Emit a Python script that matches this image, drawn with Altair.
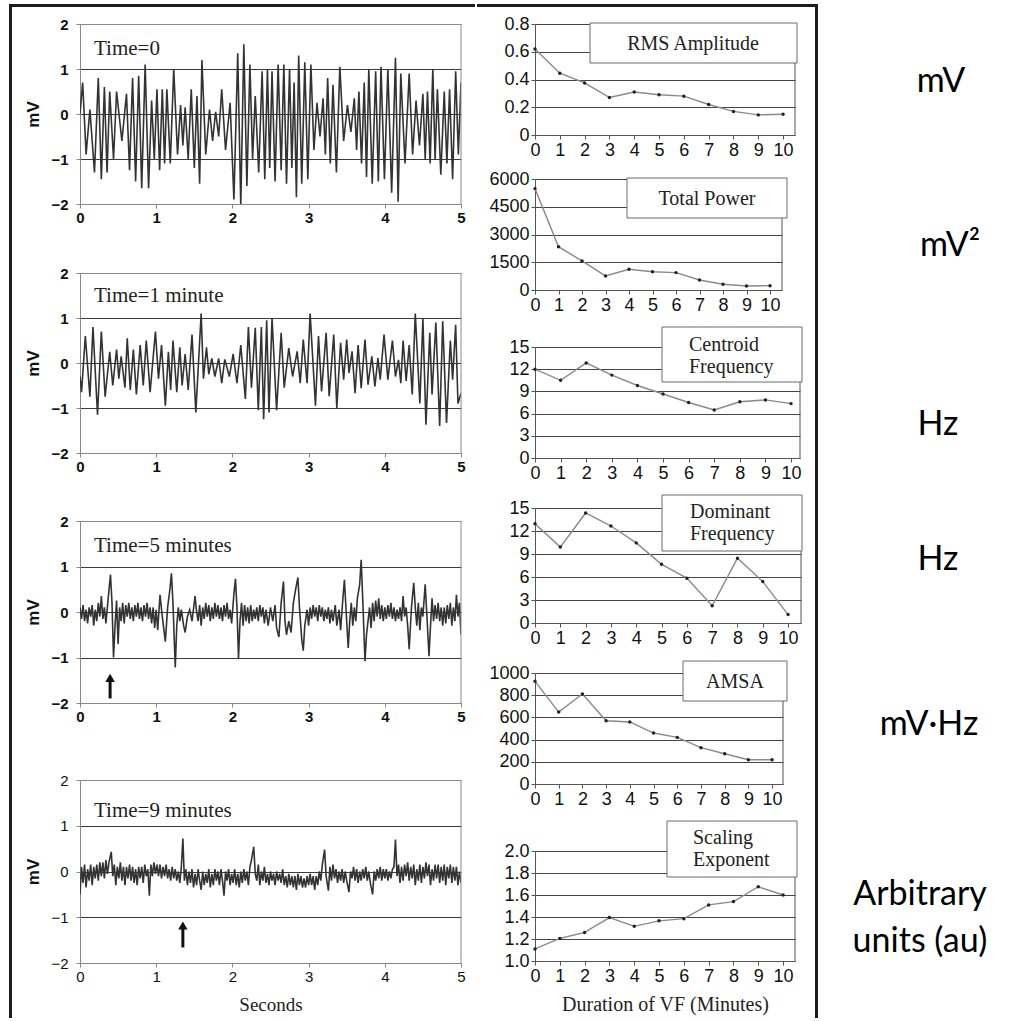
import altair as alt
import pandas as pd

SANS = "Liberation Sans"
SERIF = "Liberation Serif"
UNIT_FONT = "Lato"
FRAME = "#1c1c1c"

# ---------------- left column: ECG traces (seconds, mV) ----------------
SECONDS_TICKS = [0, 1, 2, 3, 4, 5]
MV_TICKS = [-2, -1, 0, 1, 2]
TIME_LABELS = ["Time=0", "Time=1 minute", "Time=5 minutes", "Time=9 minutes"]

TRACE_T0 = [
    (0.00, 0.0), (0.035, 0.7), (0.08, -0.9), (0.13, 0.1), (0.19, -1.3), (0.24, 0.8),
    (0.28, -1.45), (0.32, 0.6), (0.355, -1.3), (0.39, 0.5), (0.44, -1.0), (0.48, 0.5),
    (0.55, -0.6), (0.61, 0.45), (0.65, -1.25), (0.69, 0.8), (0.73, -1.5), (0.77, 0.85),
    (0.81, -1.65), (0.855, 1.1), (0.90, -1.65), (0.94, 0.3), (0.975, -1.0), (1.01, 0.55),
    (1.045, -1.25), (1.08, 0.55), (1.11, -1.1), (1.14, 0.55), (1.185, -1.1), (1.23, 1.0),
    (1.28, -0.9), (1.32, 0.2), (1.35, -0.7), (1.38, 0.15), (1.42, -1.0), (1.46, 0.55),
    (1.50, -1.2), (1.535, 0.4), (1.57, -1.55), (1.60, 1.2), (1.65, -0.9), (1.70, 0.1),
    (1.74, -0.6), (1.78, 0.05), (1.82, -0.5), (1.86, 0.55), (1.91, -0.8), (1.97, 0.25),
    (2.02, -1.9), (2.07, 1.35), (2.11, -2.05), (2.15, 1.55), (2.19, -1.6), (2.23, 1.1),
    (2.265, -1.0), (2.30, 0.4), (2.345, -1.3), (2.39, 0.95), (2.425, -1.45), (2.46, 1.0),
    (2.49, -1.2), (2.52, 0.95), (2.56, -1.5), (2.60, 1.1), (2.64, -1.25), (2.675, 1.1),
    (2.71, -1.55), (2.75, 1.0), (2.78, -1.2), (2.81, 0.7), (2.84, -1.85), (2.87, 1.3),
    (2.91, -1.55), (2.95, 1.15), (2.99, -1.45), (3.03, 1.1), (3.07, -0.8), (3.11, 0.25),
    (3.15, -0.5), (3.19, 0.35), (3.22, -0.9), (3.25, 0.8), (3.285, -1.1), (3.32, 0.65),
    (3.365, -1.3), (3.41, 1.05), (3.46, -0.6), (3.51, 0.2), (3.555, -0.4), (3.60, 0.35),
    (3.63, -0.8), (3.66, 0.5), (3.695, -1.1), (3.73, 0.7), (3.76, -1.4), (3.79, 1.0),
    (3.835, -1.55), (3.88, 0.95), (3.915, -1.5), (3.95, 1.05), (3.995, -1.45), (4.04, 1.0),
    (4.09, -1.75), (4.14, 1.25), (4.175, -1.95), (4.21, 0.9), (4.265, -1.1), (4.32, 0.9),
    (4.365, -0.9), (4.41, 0.3), (4.455, -0.7), (4.50, 0.45), (4.53, -1.0), (4.56, 0.5),
    (4.595, -1.1), (4.63, 1.0), (4.66, -1.0), (4.69, 0.55), (4.735, -1.35), (4.78, 0.5),
    (4.815, -1.1), (4.85, 0.55), (4.89, -1.45), (4.93, 0.95), (4.965, -0.9), (5.00, 0.7),
]

TRACE_T1 = [
    (0.00, -0.3), (0.02, -0.65), (0.07, 0.6), (0.13, -0.75), (0.17, 0.8), (0.23, -1.15),
    (0.28, 0.7), (0.33, -0.75), (0.39, 0.25), (0.43, -0.5), (0.48, 0.3), (0.51, -0.35),
    (0.54, 0.15), (0.59, -0.55), (0.62, 0.55), (0.66, -0.6), (0.70, 0.3), (0.74, -0.7),
    (0.79, 0.4), (0.83, -0.5), (0.87, 0.5), (0.92, -0.65), (0.99, 0.7), (1.03, -0.35),
    (1.07, 0.4), (1.12, -0.95), (1.16, 0.25), (1.19, -0.6), (1.22, 0.5), (1.27, -0.65),
    (1.31, 0.35), (1.34, -0.5), (1.38, 0.2), (1.42, -0.6), (1.47, 0.63), (1.52, -1.1),
    (1.59, 1.1), (1.62, -0.35), (1.66, 0.35), (1.69, -0.25), (1.73, 0.1), (1.77, -0.3),
    (1.82, 0.1), (1.86, -0.45), (1.90, 0.08), (1.96, -0.3), (2.01, 0.2), (2.06, -0.45),
    (2.11, 0.4), (2.17, -0.8), (2.21, 0.8), (2.25, -0.55), (2.30, 0.78), (2.34, -1.05),
    (2.38, 0.8), (2.41, -1.25), (2.45, 0.95), (2.48, -1.1), (2.52, 1.0), (2.58, -1.05),
    (2.64, 0.67), (2.68, -0.55), (2.74, 0.33), (2.79, -0.3), (2.85, 0.26), (2.89, -0.45),
    (2.93, 0.52), (2.98, -0.45), (3.02, 1.1), (3.09, -0.95), (3.13, 0.6), (3.17, -0.63),
    (3.23, 0.67), (3.27, -0.74), (3.33, 0.63), (3.37, -1.0), (3.42, 0.45), (3.46, -0.37),
    (3.50, 0.52), (3.53, -0.22), (3.57, 0.26), (3.61, -0.67), (3.65, 0.4), (3.69, -0.56),
    (3.74, 0.52), (3.78, -0.48), (3.83, 0.15), (3.87, -0.52), (3.91, 0.11), (3.94, -0.37),
    (3.99, 0.63), (4.04, -0.37), (4.10, 0.5), (4.14, -0.3), (4.18, 0.07), (4.21, -0.45),
    (4.24, 0.5), (4.28, -0.4), (4.32, 0.4), (4.36, -0.7), (4.40, 1.1), (4.46, -0.9),
    (4.50, 0.98), (4.54, -1.37), (4.59, 0.67), (4.62, -0.7), (4.67, 0.9), (4.72, -1.4),
    (4.76, 0.93), (4.81, -1.33), (4.86, 0.5), (4.89, -0.37), (4.93, 0.85), (4.96, -0.9),
    (5.00, -0.67),
]

TRACE_T5 = [
    (0.00, 0.1), (0.02, -0.15), (0.04, 0.15), (0.06, -0.2), (0.08, 0.05), (0.10, -0.25),
    (0.12, 0.1), (0.14, -0.1), (0.16, 0.15), (0.18, -0.3), (0.20, 0.05), (0.22, -0.2),
    (0.24, 0.2), (0.26, -0.1), (0.28, 0.35), (0.30, -0.15), (0.32, 0.1), (0.34, -0.25),
    (0.37, 0.3), (0.40, 0.82), (0.42, 0.2), (0.44, -1.0), (0.46, -0.3), (0.48, 0.25),
    (0.50, -0.7), (0.52, 0.1), (0.54, -0.2), (0.56, 0.2), (0.58, -0.25), (0.60, 0.15),
    (0.62, -0.1), (0.64, 0.2), (0.66, -0.15), (0.68, 0.1), (0.70, -0.2), (0.72, 0.15),
    (0.74, -0.1), (0.76, 0.2), (0.78, -0.15), (0.80, 0.1), (0.82, -0.2), (0.84, 0.15),
    (0.86, -0.1), (0.88, 0.2), (0.90, -0.15), (0.92, 0.1), (0.94, -0.25), (0.96, 0.1),
    (0.98, -0.35), (1.00, 0.05), (1.02, -0.4), (1.05, 0.38), (1.08, -0.1), (1.12, -0.65),
    (1.15, 0.1), (1.18, 0.5), (1.20, 0.85), (1.22, 0.2), (1.25, -1.22), (1.27, -0.3),
    (1.29, 0.1), (1.31, -0.2), (1.33, 0.05), (1.36, -0.3), (1.38, -0.45), (1.41, -0.1),
    (1.44, 0.05), (1.47, -0.2), (1.51, 0.35), (1.53, 0.0), (1.55, -0.2), (1.57, 0.15),
    (1.59, -0.3), (1.61, 0.1), (1.63, -0.15), (1.65, 0.2), (1.67, -0.1), (1.69, 0.15),
    (1.71, -0.2), (1.73, 0.1), (1.75, -0.15), (1.77, 0.2), (1.79, -0.1), (1.81, 0.15),
    (1.83, -0.15), (1.85, 0.1), (1.87, -0.2), (1.89, 0.15), (1.91, -0.1), (1.93, 0.2),
    (1.95, -0.15), (1.97, 0.05), (1.99, -0.25), (2.02, 0.4), (2.04, 0.73), (2.06, 0.1),
    (2.08, -1.02), (2.10, -0.2), (2.12, 0.2), (2.14, -0.3), (2.16, 0.15), (2.18, -0.2),
    (2.20, 0.1), (2.22, -0.25), (2.24, 0.15), (2.26, -0.2), (2.28, 0.05), (2.30, -0.15),
    (2.32, 0.1), (2.34, -0.2), (2.36, 0.15), (2.38, -0.1), (2.40, 0.1), (2.42, -0.25),
    (2.44, 0.05), (2.47, -0.3), (2.50, 0.1), (2.53, -0.2), (2.56, 0.15), (2.58, -0.35),
    (2.61, -0.55), (2.64, 0.2), (2.67, 0.67), (2.69, -0.2), (2.71, -0.5), (2.74, -0.2),
    (2.77, -0.45), (2.80, 0.2), (2.83, 0.5), (2.86, 0.76), (2.88, 0.1), (2.91, -0.6),
    (2.93, -0.85), (2.95, -0.3), (2.98, 0.05), (3.00, -0.3), (3.02, 0.1), (3.04, -0.15),
    (3.06, 0.15), (3.08, -0.1), (3.10, 0.1), (3.12, -0.2), (3.14, 0.15), (3.16, -0.1),
    (3.18, 0.1), (3.20, -0.2), (3.22, 0.05), (3.24, -0.15), (3.26, 0.1), (3.28, -0.25),
    (3.30, 0.05), (3.32, -0.2), (3.35, 0.15), (3.37, -0.3), (3.40, 0.05), (3.42, -0.4),
    (3.45, 0.3), (3.47, 0.71), (3.49, 0.1), (3.52, -0.79), (3.54, -0.2), (3.56, 0.2),
    (3.58, -0.3), (3.60, 0.1), (3.62, -0.2), (3.64, 0.3), (3.67, 0.6), (3.69, 1.15),
    (3.71, 0.3), (3.74, -1.08), (3.76, -0.5), (3.78, -0.2), (3.80, 0.1), (3.82, -0.35),
    (3.84, 0.2), (3.86, -0.2), (3.88, 0.25), (3.90, -0.1), (3.92, 0.3), (3.94, -0.15),
    (3.96, 0.15), (3.98, -0.2), (4.00, 0.1), (4.02, -0.15), (4.04, 0.15), (4.06, -0.1),
    (4.08, 0.2), (4.10, -0.15), (4.12, 0.1), (4.14, -0.2), (4.16, 0.05), (4.18, -0.15),
    (4.20, 0.1), (4.22, -0.2), (4.24, 0.35), (4.26, -0.1), (4.28, 0.1), (4.30, -0.3),
    (4.32, -0.82), (4.35, 0.1), (4.38, 0.64), (4.40, 0.1), (4.42, -0.3), (4.44, 0.2),
    (4.46, -0.4), (4.48, 0.1), (4.50, -0.1), (4.53, 0.61), (4.55, 0.0), (4.58, -0.97),
    (4.60, -0.3), (4.62, 0.3), (4.64, -0.2), (4.66, 0.15), (4.68, -0.15), (4.70, 0.2),
    (4.72, -0.2), (4.74, 0.1), (4.76, -0.3), (4.78, 0.1), (4.80, -0.25), (4.82, 0.15),
    (4.84, -0.15), (4.86, 0.2), (4.88, -0.3), (4.90, 0.1), (4.92, -0.2), (4.94, 0.38),
    (4.96, -0.1), (4.98, 0.2), (5.00, -0.5),
]

TRACE_T9 = [
    (0.00, -0.5), (0.02, 0.1), (0.04, -0.25), (0.06, 0.15), (0.08, -0.35), (0.10, 0.05),
    (0.12, -0.2), (0.14, 0.15), (0.16, -0.3), (0.18, 0.1), (0.20, -0.15), (0.22, 0.15),
    (0.24, -0.2), (0.26, 0.2), (0.28, -0.1), (0.30, 0.2), (0.32, -0.15), (0.34, 0.25),
    (0.36, -0.05), (0.38, 0.2), (0.41, 0.43), (0.43, -0.1), (0.45, 0.15), (0.47, -0.3),
    (0.49, 0.1), (0.51, -0.15), (0.53, 0.2), (0.55, -0.2), (0.57, 0.1), (0.59, -0.3),
    (0.61, 0.1), (0.63, -0.15), (0.65, 0.15), (0.67, -0.2), (0.69, 0.1), (0.71, -0.25),
    (0.73, 0.05), (0.75, -0.3), (0.77, 0.1), (0.79, -0.15), (0.81, 0.1), (0.83, -0.25),
    (0.85, 0.15), (0.87, -0.1), (0.89, 0.05), (0.91, -0.53), (0.93, 0.15), (0.95, -0.1),
    (0.97, 0.2), (0.99, -0.05), (1.01, 0.15), (1.03, -0.1), (1.05, 0.15), (1.07, -0.15),
    (1.09, 0.1), (1.11, -0.1), (1.13, 0.15), (1.15, -0.15), (1.17, 0.05), (1.19, -0.2),
    (1.21, 0.1), (1.23, -0.15), (1.25, 0.05), (1.27, -0.2), (1.29, 0.0), (1.31, -0.25),
    (1.33, 0.1), (1.35, 0.72), (1.37, -0.2), (1.39, 0.05), (1.41, -0.3), (1.43, 0.0),
    (1.45, -0.25), (1.47, 0.05), (1.49, -0.35), (1.51, -0.05), (1.53, -0.3), (1.55, 0.05),
    (1.57, -0.2), (1.59, -0.4), (1.61, 0.0), (1.63, -0.3), (1.65, -0.05), (1.67, -0.25),
    (1.69, 0.05), (1.71, -0.35), (1.73, -0.05), (1.75, -0.3), (1.77, 0.05), (1.79, -0.2),
    (1.81, 0.0), (1.83, -0.3), (1.85, 0.05), (1.87, -0.2), (1.89, -0.53), (1.91, 0.0),
    (1.93, -0.2), (1.95, 0.05), (1.97, -0.3), (1.99, -0.05), (2.01, -0.25), (2.03, 0.05),
    (2.05, -0.3), (2.07, -0.05), (2.09, -0.35), (2.11, 0.0), (2.13, -0.25), (2.15, 0.05),
    (2.17, -0.2), (2.19, 0.0), (2.21, -0.3), (2.23, 0.1), (2.25, 0.25), (2.28, 0.54),
    (2.30, -0.05), (2.32, -0.2), (2.34, 0.15), (2.36, -0.3), (2.38, 0.0), (2.40, -0.2),
    (2.42, 0.1), (2.44, -0.25), (2.46, -0.05), (2.48, -0.3), (2.50, 0.0), (2.52, -0.2),
    (2.54, -0.05), (2.56, -0.3), (2.58, 0.0), (2.60, -0.2), (2.62, -0.05), (2.64, -0.25),
    (2.66, 0.05), (2.68, -0.3), (2.70, -0.1), (2.72, -0.35), (2.74, -0.05), (2.76, -0.3),
    (2.78, -0.1), (2.80, -0.35), (2.82, -0.1), (2.84, -0.4), (2.86, -0.05), (2.88, -0.3),
    (2.90, -0.1), (2.92, -0.35), (2.94, -0.15), (2.96, -0.35), (2.98, -0.1), (3.00, -0.3),
    (3.02, -0.05), (3.04, -0.3), (3.06, -0.1), (3.08, -0.4), (3.10, -0.1), (3.12, -0.3),
    (3.14, 0.0), (3.16, -0.2), (3.18, 0.15), (3.21, 0.48), (3.23, -0.1), (3.26, -0.42),
    (3.28, 0.1), (3.30, -0.2), (3.32, 0.15), (3.34, -0.15), (3.36, 0.05), (3.38, -0.25),
    (3.40, 0.0), (3.42, -0.2), (3.44, 0.05), (3.46, -0.25), (3.48, 0.0), (3.50, -0.2),
    (3.53, -0.45), (3.55, 0.0), (3.57, -0.15), (3.59, 0.1), (3.61, -0.2), (3.63, 0.05),
    (3.65, -0.25), (3.67, 0.0), (3.69, -0.2), (3.71, 0.05), (3.73, -0.15), (3.75, 0.1),
    (3.77, -0.2), (3.79, 0.0), (3.81, -0.25), (3.84, -0.5), (3.86, 0.0), (3.88, -0.2),
    (3.90, 0.05), (3.92, -0.15), (3.94, 0.1), (3.96, -0.2), (3.98, 0.05), (4.00, -0.15),
    (4.02, 0.05), (4.04, -0.2), (4.06, 0.0), (4.08, -0.15), (4.10, 0.05), (4.12, 0.1),
    (4.14, 0.7), (4.16, -0.1), (4.18, 0.15), (4.20, -0.25), (4.22, 0.1), (4.24, -0.2),
    (4.26, 0.15), (4.28, -0.1), (4.30, 0.2), (4.32, -0.2), (4.34, 0.1), (4.36, -0.15),
    (4.38, 0.15), (4.40, -0.3), (4.42, 0.05), (4.44, -0.2), (4.46, 0.15), (4.48, -0.25),
    (4.50, 0.1), (4.52, -0.15), (4.54, 0.2), (4.56, -0.1), (4.58, 0.15), (4.60, -0.3),
    (4.62, 0.05), (4.64, -0.2), (4.66, 0.15), (4.68, -0.15), (4.70, 0.15), (4.72, -0.25),
    (4.74, 0.1), (4.76, -0.2), (4.78, 0.15), (4.80, -0.3), (4.82, 0.1), (4.84, -0.15),
    (4.86, 0.15), (4.88, -0.25), (4.90, 0.1), (4.92, -0.2), (4.94, 0.1), (4.96, -0.3),
    (4.98, 0.0), (5.00, -0.25),
]

# arrows: (seconds, arrow-head centre mV, tail mV)
ARROW_T5 = [(0.395, -1.45, -1.9)]
ARROW_T9 = [(1.35, -1.18, -1.66)]

# ---------------- right column: VF measures vs minutes ----------------
MINUTES = [0, 1, 2, 3, 4, 5, 6, 7, 8, 9, 10]
RMS_AMPLITUDE = [0.62, 0.445, 0.375, 0.27, 0.31, 0.29, 0.28, 0.22, 0.17, 0.145, 0.15]
TOTAL_POWER = [5480, 2340, 1570, 760, 1120, 990, 940, 540, 310, 215, 235]
CENTROID_FREQ = [12.0, 10.5, 12.85, 11.2, 9.8, 8.65, 7.5, 6.5, 7.6, 7.85, 7.35]
DOMINANT_FREQ = [12.95, 9.9, 14.35, 12.65, 10.45, 7.65, 5.85, 2.25, 8.45, 5.4, 1.1]
AMSA = [925, 648, 811, 570, 559, 459, 420, 327, 273, 219, 219]
SCALING_EXP = [1.11, 1.205, 1.26, 1.395, 1.315, 1.365, 1.385, 1.51, 1.54, 1.675, 1.6]

RMS_TICKS = [0, 0.2, 0.4, 0.6, 0.8]
POWER_TICKS = [0, 1500, 3000, 4500, 6000]
FREQ_TICKS = [0, 3, 6, 9, 12, 15]
AMSA_TICKS = [0, 200, 400, 600, 800, 1000]
SCALING_TICKS = [1.0, 1.2, 1.4, 1.6, 1.8, 2.0]

PANEL_TITLES = ["RMS Amplitude", "Total Power", ["Centroid", "Frequency"],
                ["Dominant", "Frequency"], "AMSA", ["Scaling", "Exponent"]]
UNIT_LABELS = ["mV", "mV\u00b2", "Hz", "Hz", "mV\u00b7Hz", ["Arbitrary", "units (au)"]]

ONE = pd.DataFrame({"k": [0]})


def bar(x0, x1, y0, y1, color=FRAME):
    return alt.Chart(ONE).mark_rect(color=color).encode(
        x=alt.value(x0), x2=alt.value(x1), y=alt.value(y0), y2=alt.value(y1))


def vline(x, y0, y1, color):
    return alt.Chart(ONE).mark_rule(color=color, strokeWidth=1).encode(
        x=alt.value(x), y=alt.value(y0), y2=alt.value(y1))


# h: plot height, e: blank strip above the plot inside the view, ty: label baseline
LEFT_LAYOUT = [
    dict(h=180, e=0, ty=31, bold=True),
    dict(h=180, e=1, ty=29, bold=True),
    dict(h=182, e=0, ty=31, bold=True),
    dict(h=183, e=9, ty=37, bold=False),
]
LEFT_W = 381
LEFT_GAP = 68


def left_panel(i, trace, arrows=None):
    lay = LEFT_LAYOUT[i]
    e, h = lay["e"], lay["h"]
    H = h + e
    last = i == 3
    df = pd.DataFrame(trace, columns=["t", "v"])
    weight = "bold" if lay["bold"] else "normal"
    xax = alt.Axis(values=SECONDS_TICKS, format="d", grid=False, tickSize=4,
                   tickColor="#888", domainColor="#888", labelFont=SANS,
                   labelFontSize=15, labelFontWeight=weight, labelColor="#111",
                   labelPadding=2, labelFlush=False, labelOverlap=False,
                   titleFont=SERIF, titleFontSize=19, titleFontWeight="normal",
                   titleColor="#222", titlePadding=11)
    yax = alt.Axis(values=MV_TICKS, format="d", grid=True,
                   gridColor={"condition": {"test": "abs(datum.value) == 2", "value": "#8a8a8a"},
                              "value": "#3a3a3a"},
                   tickSize=4, tickColor="#888", domainColor="#888", labelFont=SANS,
                   labelFontSize=15, labelFontWeight=weight, labelColor="#111",
                   labelPadding=8, labelFlush=False, labelOverlap=False,
                   titleFont=SANS, titleFontSize=17, titleFontWeight="bold",
                   titleColor="#111", titlePadding=8)
    x = alt.X("t:Q", scale=alt.Scale(domain=[0, 5], nice=False, zero=False), axis=xax,
              title="Seconds" if last else None)
    y = alt.Y("v:Q", scale=alt.Scale(domain=[-2, 2], range=[H, e], nice=False, zero=False),
              axis=yax, title="mV")
    line = alt.Chart(df).mark_line(color="#333333", strokeWidth=1.6, clip=True).encode(x=x, y=y)
    label = alt.Chart(ONE).mark_text(align="left", baseline="alphabetic", font=SERIF,
                                     fontSize=21, color="#222").encode(
        x=alt.value(14), y=alt.value(e + lay["ty"]), text=alt.value(TIME_LABELS[i]))
    layers = [line, label, vline(LEFT_W, e, H, "#8a8a8a")]
    if i == 0:
        layers.append(bar(-71, -68, -20, 994))   # left frame edge
        layers.append(bar(-71, 395, -20, -17))   # top frame edge (left half)
    if arrows:
        adf = pd.DataFrame(arrows, columns=["t", "head", "tail"])
        layers.append(alt.Chart(adf).mark_rule(color="#111", strokeWidth=3).encode(
            x="t:Q", y="tail:Q", y2="head:Q"))
        layers.append(alt.Chart(adf).mark_point(shape="triangle-up", filled=True, size=90,
                                                color="#111", opacity=1).encode(
            x="t:Q", y="head:Q"))
    return alt.layer(*layers).properties(
        width=LEFT_W, height=H, view=alt.ViewBackground(stroke="transparent"))


RIGHT_LAYOUT = [
    dict(w=260, xmax=10.48, h=111, e=0, box=(55, 262, -1, 39), t=(158, 20, "center"), u=(406, 58)),
    dict(w=247, xmax=10.51, h=111, e=0, box=(92, 252, -1, 39), t=(172, 20, "center"), u=(415, 67)),
    dict(w=265, xmax=10.35, h=111, e=13, box=(127, 267, -20, 35), t=(154, -2, "left"), u=(403, 78)),
    dict(w=266, xmax=10.51, h=115, e=6, box=(127, 267, -13, 43), t=(155, 4, "left"), u=(403, 52)),
    dict(w=248, xmax=10.46, h=111, e=6, box=(148, 252, -12, 28), t=(200, 9, "center"), u=(394, 52)),
    dict(w=260, xmax=10.48, h=110, e=23, box=(132, 262, -30, 26), t=(158, -13, "left"), u=(385, 44)),
]
RIGHT_GAP = 44


def right_panel(i, vals, ticks, label_expr):
    lay = RIGHT_LAYOUT[i]
    e, h, w = lay["e"], lay["h"], lay["w"]
    H = h + e
    last = i == 5
    df = pd.DataFrame({"m": MINUTES, "v": vals})
    xax = alt.Axis(values=MINUTES, format="d", grid=False, tickSize=4, tickColor="#555",
                   domainColor="#555", labelFont=SANS, labelFontSize=18, labelColor="#111",
                   labelPadding=2, labelFlush=False, labelOverlap=False,
                   titleFont=SERIF, titleFontSize=20, titleFontWeight="normal",
                   titleColor="#222", titlePadding=9)
    yax = alt.Axis(values=ticks, labelExpr=label_expr, grid=True, gridColor="#444",
                   tickSize=4, tickColor="#555", domainColor="#555", labelFont=SANS,
                   labelFontSize=18, labelColor="#111", labelPadding=2, labelFlush=False,
                   labelOverlap=False)
    x = alt.X("m:Q", scale=alt.Scale(domain=[0, lay["xmax"]], nice=False, zero=False),
              axis=xax, title="Duration of VF (Minutes)" if last else None)
    y = alt.Y("v:Q", scale=alt.Scale(domain=[ticks[0], ticks[-1]], range=[H, e],
                                     nice=False, zero=False),
              axis=yax, title=None)
    base = alt.Chart(df).encode(x=x, y=y)
    line = base.mark_line(color="#8a8a8a", strokeWidth=1.4)
    pts = base.mark_point(filled=True, size=12, color="#222", opacity=1)
    b = lay["box"]
    box = alt.Chart(ONE).mark_rect(fill="white", stroke="#6a6a6a", strokeWidth=1).encode(
        x=alt.value(b[0]), x2=alt.value(b[1]), y=alt.value(e + b[2]), y2=alt.value(e + b[3]))
    tx, ty, ta = lay["t"]
    title = alt.Chart(ONE).mark_text(font=SERIF, fontSize=20, color="#222", align=ta,
                                     baseline="middle", lineHeight=22).encode(
        x=alt.value(tx), y=alt.value(e + ty), text=alt.value(PANEL_TITLES[i]))
    ux, uy = lay["u"]
    unit = alt.Chart(ONE).mark_text(font=UNIT_FONT, fontSize=34, color="#000",
                                    align="center", baseline="middle", lineHeight=47).encode(
        x=alt.value(ux), y=alt.value(e + uy), text=alt.value(UNIT_LABELS[i]))
    layers = [line, pts, vline(w, e, H, "#555"), box, title, unit]
    if i == 0:
        layers.append(bar(280, 283, -20, 994))    # right frame edge
        layers.append(bar(-58, 283, -20, -17))    # top frame edge (right half)
    return alt.layer(*layers).properties(
        width=w, height=H, view=alt.ViewBackground(stroke="transparent"))


left_col = alt.vconcat(
    left_panel(0, TRACE_T0),
    left_panel(1, TRACE_T1),
    left_panel(2, TRACE_T5, ARROW_T5),
    left_panel(3, TRACE_T9, ARROW_T9),
    spacing=LEFT_GAP, bounds="flush",
)

FMT_D = "format(datum.value, 'd')"
right_col = alt.vconcat(
    right_panel(0, RMS_AMPLITUDE, RMS_TICKS, "datum.value == 0 ? '0' : format(datum.value, '.1f')"),
    right_panel(1, TOTAL_POWER, POWER_TICKS, FMT_D),
    right_panel(2, CENTROID_FREQ, FREQ_TICKS, FMT_D),
    right_panel(3, DOMINANT_FREQ, FREQ_TICKS, FMT_D),
    right_panel(4, AMSA, AMSA_TICKS, FMT_D),
    right_panel(5, SCALING_EXP, SCALING_TICKS, "format(datum.value, '.1f')"),
    spacing=RIGHT_GAP, bounds="flush",
)

chart = alt.hconcat(left_col, right_col, spacing=0).properties(
    padding={"left": 8, "top": 3, "right": 0, "bottom": 0},
    background="white",
).configure(font=SANS)

chart.save("out.html", embed_options={"renderer": "svg", "actions": False})
